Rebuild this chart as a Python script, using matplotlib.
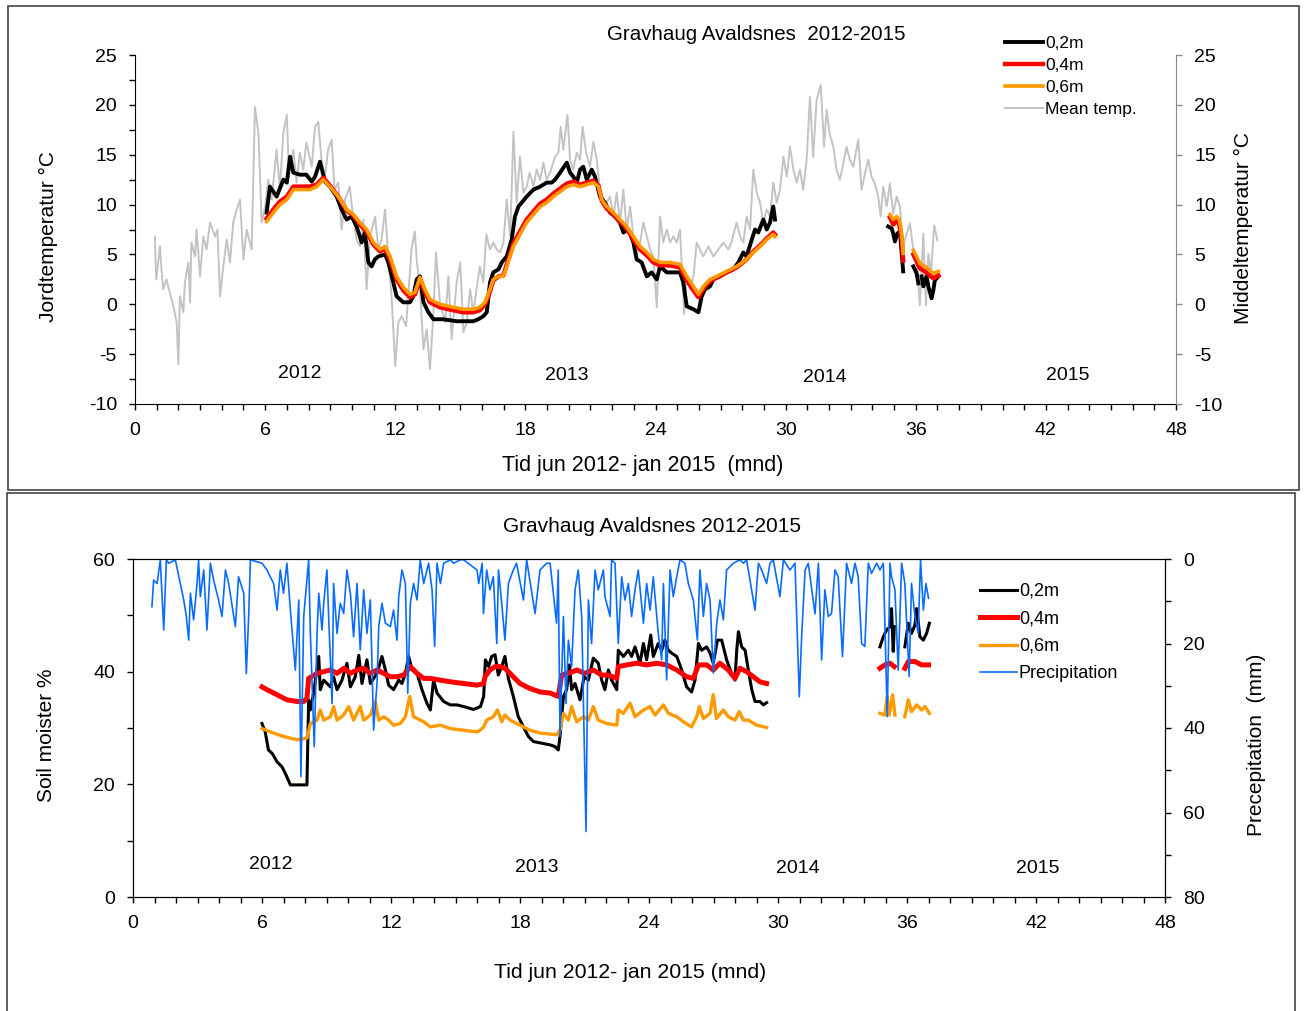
import matplotlib.pyplot as plt
from matplotlib.patches import Rectangle
from matplotlib.ticker import MultipleLocator
import numpy as np

plt.rcParams['font.family'] = ['Liberation Sans', 'DejaVu Sans']
plt.rcParams['axes.unicode_minus'] = False

nan = np.nan

# ---------------- top panel: temperatures (months since start) ----------------
mean_month = [0.92, 0.95, 0.98, 1.15, 1.22, 1.3, 1.45, 1.6, 1.77, 1.92, 2.0, 2.07,
              2.23, 2.3, 2.46, 2.54, 2.6, 2.77, 2.84, 3.0, 3.15, 3.3, 3.46, 3.69,
              3.8, 3.92, 4.07, 4.23, 4.38, 4.53, 4.69, 4.84, 5.0, 5.15, 5.38, 5.53,
              5.69, 5.84, 6.0, 6.15, 6.3, 6.53, 6.68, 6.84, 7.0, 7.1, 7.3, 7.45,
              7.6, 7.76, 7.9, 8.15, 8.3, 8.45, 8.6, 8.76, 8.9, 9.07, 9.2, 9.37,
              9.53, 9.68, 9.9, 10.07, 10.22, 10.37, 10.53, 10.68, 10.83, 11.07, 11.22, 11.37,
              11.53, 11.68, 11.83, 12.0, 12.14, 12.3, 12.5, 12.75, 12.9, 13.0, 13.14, 13.3,
              13.45, 13.6, 13.75, 13.88, 14.06, 14.3, 14.45, 14.6, 14.83, 15.0, 15.14, 15.3,
              15.45, 15.6, 15.9, 16.06, 16.2, 16.37, 16.52, 16.68, 16.83, 16.99, 17.14, 17.3,
              17.45, 17.6, 17.75, 17.91, 18.06, 18.2, 18.37, 18.52, 18.68, 18.83, 18.98, 19.14,
              19.37, 19.52, 19.63, 19.75, 19.94, 20.06, 20.2, 20.37, 20.52, 20.64, 20.8, 20.98,
              21.14, 21.29, 21.44, 21.6, 21.75, 21.9, 22.06, 22.21, 22.36, 22.52, 22.67, 22.83,
              22.98, 23.13, 23.29, 23.44, 23.6, 23.75, 23.9, 24.06, 24.21, 24.36, 24.52, 24.67,
              24.82, 24.98, 25.13, 25.32, 25.44, 25.6, 25.75, 25.9, 26.05, 26.2, 26.44, 26.67,
              26.9, 27.13, 27.36, 27.5, 27.74, 27.9, 28.05, 28.2, 28.36, 28.51, 28.67, 28.82,
              28.97, 29.13, 29.28, 29.43, 29.59, 29.74, 29.9, 30.05, 30.2, 30.36, 30.51, 30.66,
              30.81, 30.97, 31.12, 31.27, 31.43, 31.62, 31.77, 31.89, 32.04, 32.2, 32.35, 32.5,
              32.66, 32.81, 32.96, 33.12, 33.35, 33.5, 33.66, 33.81, 33.96, 34.12, 34.27, 34.38,
              34.5, 34.66, 34.81, 34.96, 35.12, 35.27, 35.42, 35.58, 35.73, 35.89, 36.04, 36.19,
              36.35, 36.47, 36.58, 36.7, 36.85, 37.0]
mean_temp = [6.8, 4.3, 2.5, 5.8, 3.5, 1.5, 2.5, 1.2, -0.2, -1.8, -6.0, 0.8,
             -0.8, 2.2, 4.2, 0.2, 6.2, 4.8, 7.5, 2.8, 6.8, 5.5, 8.2, 6.8,
             7.5, 0.8, 3.8, 6.5, 4.2, 8.2, 9.5, 10.5, 4.5, 7.5, 5.5, 19.8,
             17.2, 8.2, 9.8, 12.5, 10.5, 15.5, 11.5, 17.2, 19.0, 12.8, 15.5, 12.2,
             15.2, 13.5, 16.2, 13.8, 17.8, 18.3, 14.5, 12.8, 15.5, 16.5, 11.5, 12.2,
             7.5, 10.5, 11.8, 8.5, 6.5, 5.8, 8.5, 1.5, 6.8, 8.8, 5.5, 6.5,
             9.5, 4.8, 0.8, -6.2, -1.8, -1.2, -2.2, 5.5, 7.3, 4.2, 1.5, -4.5,
             -2.5, -6.5, -1.2, 5.2, 0.2, -1.8, 2.8, -3.5, 2.2, 4.2, -2.8, -1.8,
             1.5, -0.8, 3.8, 2.2, 7.0, 5.5, 6.2, 5.5, 5.2, 6.2, 10.5, 6.8,
             17.3, 10.2, 14.8, 11.2, 11.8, 13.2, 11.8, 13.5, 12.5, 14.2, 12.5, 13.2,
             14.8, 15.2, 17.8, 15.5, 19.0, 14.5, 13.5, 15.2, 14.5, 17.8, 15.2, 13.8,
             16.3, 14.5, 11.5, 10.5, 10.2, 10.8, 8.8, 11.2, 8.2, 11.5, 7.5, 9.8,
             6.8, 4.8, 6.2, 8.2, 6.8, 5.5, 4.8, -0.3, 8.8, 6.2, 7.5, 6.2,
             6.8, 6.2, 7.5, -1.0, 2.8, 1.5, 2.8, 6.2, 5.5, 4.8, 5.8, 4.8,
             5.5, 6.2, 5.5, 6.2, 8.2, 6.8, 6.2, 8.8, 7.5, 13.5, 11.2, 10.2,
             8.2, 9.5, 8.8, 12.2, 10.2, 11.5, 14.8, 12.8, 15.8, 13.5, 12.2, 13.5,
             11.5, 14.5, 20.8, 14.8, 20.5, 22.0, 15.8, 19.5, 17.0, 15.8, 13.5, 12.5,
             14.1, 15.8, 14.5, 13.8, 16.5, 11.5, 13.1, 14.5, 12.8, 12.1, 10.8, 8.8,
             11.8, 9.8, 12.1, 9.1, 10.8, 9.8, 5.8, 7.1, 8.1, 5.4, 4.4, -0.1,
             7.1, -0.1, 5.1, 3.1, 7.9, 6.4]

soil02_month = [6.07, 6.22, 6.53, 6.84, 7.0, 7.15, 7.3, 7.6, 7.9, 8.15, 8.3, 8.53,
                8.76, 8.99, 9.3, 9.53, 9.76, 9.99, 10.22, 10.45, 10.6, 10.76, 10.91, 11.06,
                11.22, 11.53, 11.68, 11.91, 12.06, 12.37, 12.68, 12.83, 12.99, 13.14, 13.3, 13.53,
                13.76, 14.2, 14.83, 15.6, 15.83, 16.06, 16.22, 16.37, 16.52, 16.76, 16.91, 17.14,
                17.37, 17.52, 17.68, 17.83, 18.06, 18.37, 18.68, 18.98, 19.21, 19.37, 19.6, 19.91,
                20.06, 20.21, 20.37, 20.52, 20.67, 20.83, 21.06, 21.21, 21.44, 21.67, 21.9, 22.13,
                22.36, 22.52, 22.75, 22.98, 23.13, 23.36, 23.6, 23.82, 24.06, 24.21, 24.52, 24.82,
                25.13, 25.28, 25.44, 25.75, 25.98, 26.13, 26.28, 26.51, 26.67, 26.98, 27.28, 27.59,
                27.82, 28.05, 28.2, 28.44, 28.59, 28.74, 28.97, 29.13, 29.28, 29.43, 29.51, 29.6,
                34.73, 34.89, 34.96, 35.04, 35.15, 35.27, 35.35, 35.42, 35.6,
                35.89, 36.04, 36.12, 36.2,
                36.27, 36.35, 36.5, 36.58, 36.73, 36.81, 36.88, 37.04]
soil02_temp = [9.2, 11.8, 10.8, 12.5, 12.2, 14.8, 13.2, 13.0, 13.0, 12.3, 12.8, 14.3,
               12.3, 11.8, 10.8, 9.5, 8.5, 8.8, 7.8, 6.2, 7.2, 4.2, 3.8, 4.5,
               4.8, 5.0, 4.2, 2.2, 0.8, 0.2, 0.2, 0.8, 2.5, 2.8, 0.2, -0.8,
               -1.5, -1.5, -1.7, -1.7, -1.5, -1.2, -0.8, 2.2, 3.2, 3.5, 4.2, 4.8,
               6.5, 8.8, 9.8, 10.2, 10.8, 11.5, 11.8, 12.2, 12.2, 12.5, 13.2, 14.2,
               13.2, 12.8, 12.2, 13.5, 13.8, 12.5, 13.5, 12.8, 10.8, 10.2, 9.2, 8.8,
               8.2, 7.2, 7.5, 6.2, 4.5, 4.2, 2.8, 3.2, 2.5, 3.8, 3.2, 3.2,
               3.2, 2.2, -0.2, -0.5, -0.8, 0.8, 1.5, 1.8, 2.5, 2.8, 3.2, 3.5,
               4.2, 5.2, 4.8, 6.5, 7.5, 7.2, 8.5, 7.5, 8.2, 9.8, 8.5, nan,
               7.8, 7.6, 7.1, 6.3, 7.1, 7.3, 5.1, 3.3, nan,
               3.8, 3.1, 2.1, nan,
               2.8, 1.8, 2.8, 1.8, 0.6, 1.4, 2.4, 2.8]

soil_month = [6.07, 6.38, 6.68, 7.0, 7.3, 7.6, 8.07, 8.38, 8.68, 8.99, 9.37, 9.76,
              10.07, 10.37, 10.68, 10.99, 11.3, 11.53, 11.76, 12.06, 12.37, 12.68, 12.91, 13.14,
              13.37, 13.6, 14.06, 14.68, 15.14, 15.6, 15.9, 16.14, 16.37, 16.52, 16.76, 16.99,
              17.14, 17.45, 17.75, 18.06, 18.37, 18.68, 18.98, 19.29, 19.6, 19.91, 20.21, 20.52,
              20.83, 21.14, 21.37, 21.52, 21.75, 22.06, 22.36, 22.67, 22.98, 23.29, 23.6, 23.9,
              24.21, 24.67, 25.13, 25.44, 25.75, 25.98, 26.21, 26.51, 26.82, 27.28, 27.74, 28.2,
              28.51, 28.82, 29.13, 29.43, 29.51, 29.6,
              34.81, 34.96, 35.12, 35.24, 35.35, 35.42, 35.6,
              35.89, 36.04, 36.19, 36.42, 36.65, 36.81, 37.04]
soil04_temp = [8.6, 9.5, 10.3, 10.8, 11.8, 11.8, 11.8, 12.0, 12.7, 11.9, 10.8, 9.4,
               8.9, 8.0, 7.3, 6.0, 5.3, 5.6, 4.5, 2.5, 1.4, 0.7, 1.0, 2.6,
               1.2, 0.2, -0.3, -0.6, -0.8, -0.8, -0.6, 0.0, 1.3, 2.4, 2.8, 2.9,
               4.0, 6.1, 7.3, 8.5, 9.3, 10.1, 10.5, 11.1, 11.6, 12.1, 12.3, 12.0,
               12.2, 12.4, 11.9, 10.4, 9.6, 9.0, 8.3, 7.6, 6.5, 5.5, 4.9, 4.2,
               3.9, 3.9, 3.7, 2.4, 1.4, 0.7, 1.6, 2.3, 2.7, 3.2, 3.7, 4.5,
               5.3, 5.9, 6.6, 7.2, 7.0, nan,
               8.7, 8.0, 8.4, 8.0, 6.5, 4.4, nan,
               5.0, 4.3, 3.6, 3.3, 2.9, 2.6, 2.9]
soil06_temp = [8.3, 9.2, 10.0, 10.5, 11.5, 11.5, 11.5, 11.8, 12.5, 11.8, 10.8, 9.5,
               9.0, 8.2, 7.5, 6.2, 5.5, 5.8, 4.8, 2.8, 1.7, 1.0, 1.2, 2.7,
               1.5, 0.5, 0.0, -0.3, -0.5, -0.5, -0.3, 0.2, 1.5, 2.5, 2.8, 2.8,
               3.8, 5.8, 7.0, 8.2, 9.0, 9.8, 10.2, 10.8, 11.3, 11.8, 12.0, 11.8,
               12.0, 12.2, 11.8, 10.5, 9.8, 9.2, 8.5, 7.8, 6.8, 5.8, 5.2, 4.5,
               4.2, 4.2, 4.0, 2.8, 1.8, 1.0, 1.8, 2.5, 2.8, 3.3, 3.8, 4.5,
               5.2, 5.8, 6.5, 7.0, 6.8, nan,
               9.0, 8.5, 8.8, 8.5, 7.1, 5.1, nan,
               5.4, 4.8, 4.1, 3.8, 3.4, 3.1, 3.3]

# ---------------- bottom panel: soil moisture (%) and precipitation (mm) ----------------
moist02_month = [6.0, 6.15, 6.3, 6.47, 6.7, 6.93, 7.09, 7.32, 8.09, 8.17, 8.25, 8.4,
                 8.64, 8.71, 8.87, 9.18, 9.33, 9.49, 9.72, 9.95, 10.11, 10.34, 10.5, 10.65,
                 10.88, 11.04, 11.35, 11.58, 11.74, 11.89, 12.12, 12.36, 12.51, 12.67, 12.82, 12.98,
                 13.21, 13.44, 13.67, 13.83, 13.98, 14.14, 14.45, 14.76, 15.07, 15.38, 15.84, 16.16,
                 16.31, 16.39, 16.54, 16.68, 16.84, 16.99, 17.15, 17.3, 17.46, 17.69, 17.92, 18.16,
                 18.39, 18.62, 19.01, 19.4, 19.63, 19.78, 19.86, 20.02, 20.17, 20.3, 20.4, 20.56,
                 20.79, 20.98, 21.18, 21.41, 21.64, 21.8, 21.95, 22.11, 22.26, 22.5, 22.57, 22.81,
                 23.04, 23.19, 23.35, 23.58, 23.74, 23.89, 24.08, 24.2, 24.43, 24.59, 24.74, 24.9,
                 25.05, 25.29, 25.52, 25.75, 25.98, 26.14, 26.3, 26.45, 26.68, 26.84, 26.99, 27.18,
                 27.38, 27.61, 27.84, 28.0, 28.08, 28.16, 28.31, 28.47, 28.62, 28.78, 28.93, 29.16,
                 29.32, 29.47, 29.6,
                 34.74, 34.9, 35.05, 35.21, 35.28, 35.36, 35.41, 35.6,
                 35.9, 36.06, 36.21, 36.37, 36.45, 36.6, 36.76, 36.91, 37.04]
moist02 = [30.8, 29.3, 26.1, 25.5, 24.0, 23.1, 21.9, 19.9, 19.9, 35.0, 33.2, 36.2,
           42.7, 36.8, 38.5, 37.3, 39.1, 36.8, 38.5, 41.5, 37.3, 39.1, 42.9, 37.9,
           42.1, 37.9, 39.7, 42.7, 40.3, 37.6, 36.8, 38.5, 37.9, 39.7, 42.7, 40.3,
           39.7, 36.8, 34.4, 33.2, 38.5, 36.2, 34.7, 34.1, 34.1, 33.8, 33.3, 33.8,
           35.6, 42.1, 40.9, 42.7, 43.0, 39.4, 40.9, 42.7, 38.8, 35.6, 32.0, 30.2,
           28.5, 27.6, 27.3, 27.0, 26.7, 26.1, 28.5, 35.6, 36.8, 41.2, 36.8, 37.9,
           35.0, 39.1, 38.5, 42.4, 41.5, 38.5, 36.8, 40.3, 38.5, 36.8, 43.8, 42.7,
           43.8, 42.7, 44.4, 41.5, 45.0, 42.1, 46.5, 42.7, 45.0, 43.8, 45.6, 43.8,
           43.3, 42.7, 40.3, 37.3, 36.4, 38.5, 45.0, 43.8, 44.4, 43.3, 41.5, 45.6,
           45.6, 42.1, 39.7, 38.5, 43.8, 47.1, 44.4, 43.8, 40.3, 36.8, 34.7, 34.7,
           34.1, 34.5, nan,
           44.4, 46.2, 47.4, 48.0, 51.2, 43.6, 48.0, nan,
           44.4, 48.6, 46.8, 48.3, 51.2, 46.2, 45.6, 46.8, 48.6]

moist04_month = [6.0, 6.23, 6.7, 7.16, 7.63, 7.94, 8.09, 8.17, 8.56, 8.87, 9.18, 9.49,
                 9.8, 10.11, 10.42, 10.73, 11.04, 11.35, 11.66, 11.97, 12.28, 12.59, 12.9, 13.21,
                 13.52, 13.83, 14.29, 14.76, 15.38, 16.0, 16.31, 16.37, 16.6, 16.84, 17.07, 17.3,
                 17.61, 18.0, 18.47, 18.93, 19.4, 19.78, 19.94, 20.25, 20.64, 21.02, 21.41, 21.8,
                 22.11, 22.5, 22.57, 22.96, 23.43, 23.89, 24.36, 24.82, 25.29, 25.75, 26.06, 26.3,
                 26.68, 26.99, 27.3, 27.69, 28.0, 28.23, 28.54, 28.85, 29.16, 29.47, 29.6,
                 34.74, 34.97, 35.21, 35.41, 35.6,
                 35.9, 36.06, 36.37, 36.68, 37.0]
moist04 = [37.3, 36.8, 35.9, 35.0, 34.7, 34.7, 35.3, 38.8, 39.7, 40.0, 40.3, 39.7,
           40.6, 39.7, 40.3, 40.6, 39.7, 40.3, 39.7, 39.1, 39.1, 39.4, 40.9, 39.7,
           38.8, 38.8, 38.5, 38.2, 37.9, 37.6, 37.9, 39.1, 40.3, 40.9, 40.9, 40.6,
           39.4, 37.9, 37.0, 36.4, 36.2, 35.6, 39.4, 39.7, 40.3, 39.7, 40.3, 39.4,
           39.4, 38.8, 40.9, 41.2, 41.5, 41.2, 41.5, 41.2, 40.3, 39.1, 38.8, 41.2,
           41.2, 40.3, 41.5, 40.3, 38.8, 40.6, 40.0, 39.1, 38.2, 37.9, nan,
           40.6, 41.2, 41.5, 40.9, nan,
           40.6, 41.8, 41.8, 41.2, 41.2]

moist06_month = [6.0, 6.39, 7.0, 7.63, 8.09, 8.25, 8.56, 8.71, 8.87, 9.18, 9.33, 9.49,
                 9.8, 10.03, 10.26, 10.57, 10.73, 11.04, 11.27, 11.43, 11.66, 11.89, 12.12, 12.43,
                 12.67, 12.87, 13.05, 13.52, 13.83, 14.29, 14.76, 15.38, 16.0, 16.14, 16.31, 16.45,
                 16.76, 16.95, 17.15, 17.3, 17.54, 18.0, 18.47, 18.93, 19.71, 19.86, 20.02, 20.25,
                 20.4, 20.64, 20.95, 21.18, 21.41, 21.64, 22.03, 22.5, 22.57, 22.81, 23.12, 23.35,
                 23.74, 24.05, 24.28, 24.67, 24.9, 25.29, 25.6, 25.98, 26.22, 26.34, 26.53, 26.84,
                 26.99, 27.14, 27.46, 27.69, 28.0, 28.2, 28.39, 28.62, 29.01, 29.47, 29.6,
                 34.74, 34.97, 35.08, 35.17, 35.33, 35.44, 35.6,
                 35.9, 36.06, 36.21, 36.45, 36.68, 36.84, 37.04]
moist06 = [29.9, 29.3, 28.5, 27.9, 28.2, 30.8, 31.4, 33.2, 31.4, 32.0, 33.8, 31.4,
           32.3, 33.8, 31.4, 33.8, 31.4, 32.3, 34.7, 31.4, 32.0, 31.4, 30.5, 30.8,
           32.0, 35.6, 32.0, 31.1, 30.2, 30.5, 29.9, 29.6, 29.3, 29.6, 30.2, 31.4,
           32.0, 33.2, 31.1, 32.3, 31.4, 30.5, 29.6, 29.1, 28.8, 29.6, 32.6, 31.4,
           33.8, 31.1, 32.0, 31.4, 33.8, 31.4, 30.8, 30.5, 33.2, 32.6, 34.4, 32.0,
           33.2, 33.8, 32.3, 34.1, 32.6, 32.0, 31.1, 30.2, 32.0, 33.8, 31.7, 32.6,
           35.9, 31.7, 33.2, 32.0, 31.4, 32.9, 31.4, 31.4, 30.5, 30.1, nan,
           32.6, 32.3, 35.6, 32.3, 35.9, 32.3, nan,
           32.0, 35.0, 32.9, 34.1, 33.2, 33.8, 32.6]

rain_month = [0.88, 0.96, 1.12, 1.27, 1.43, 1.55, 1.66, 1.97, 2.2, 2.36, 2.48, 2.59,
              2.67, 2.82, 2.98, 3.05, 3.13, 3.29, 3.44, 3.6, 3.75, 3.98, 4.14, 4.3,
              4.45, 4.76, 4.91, 5.15, 5.27, 5.38, 5.46, 6.0, 6.23, 6.54, 6.7, 6.85,
              7.0, 7.16, 7.32, 7.55, 7.71, 7.81, 7.94, 8.02, 8.17, 8.25, 8.43, 8.56,
              8.64, 8.79, 8.87, 9.02, 9.1, 9.26, 9.33, 9.49, 9.64, 9.8, 9.95, 10.11,
              10.26, 10.42, 10.57, 10.73, 10.88, 11.04, 11.19, 11.35, 11.43, 11.58, 11.74, 11.97,
              12.12, 12.28, 12.36, 12.51, 12.67, 12.78, 12.9, 13.05, 13.21, 13.36, 13.52, 13.75,
              13.91, 14.03, 14.14, 14.3, 14.45, 14.76, 14.91, 15.22, 15.38, 16.0, 16.08, 16.24,
              16.3, 16.45, 16.6, 16.76, 16.92, 17.0, 17.15, 17.3, 17.46, 17.69, 17.84, 18.16,
              18.31, 18.7, 18.93, 19.24, 19.4, 19.7, 19.78, 19.86, 20.02, 20.14, 20.25, 20.4,
              20.56, 20.71, 20.87, 21.07, 21.18, 21.33, 21.49, 21.64, 21.88, 21.95, 22.19, 22.26,
              22.42, 22.57, 22.73, 22.88, 23.04, 23.19, 23.35, 23.5, 23.74, 23.89, 24.05, 24.2,
              24.43, 24.59, 24.67, 24.82, 24.98, 25.13, 25.29, 25.44, 25.67, 25.83, 26.06, 26.25,
              26.37, 26.53, 26.68, 26.84, 26.99, 27.15, 27.3, 27.46, 27.61, 27.92, 28.23, 28.39,
              28.54, 28.93, 29.09, 29.24, 29.47, 29.63, 29.78, 30.09, 30.25, 30.56, 30.79, 30.99,
              31.1, 31.26, 31.41, 31.72, 31.88, 32.03, 32.18, 32.34, 32.49, 32.65, 32.8, 33.0,
              33.19, 33.42, 33.58, 33.73, 33.89, 34.04, 34.2, 34.35, 34.59, 34.74, 34.9, 35.08,
              35.21, 35.28, 35.44, 35.59, 35.75, 35.9, 36.1, 36.21, 36.37, 36.52, 36.63, 36.76,
              36.88, 37.0]
rain_mm = [11.3, 5.0, 5.8, 0.2, 16.8, 0.2, 1.0, 0.2, 5.8, 9.7, 13.6, 19.2,
           8.1, 14.4, 5.8, 0.2, 8.9, 2.6, 16.8, 1.0, 5.0, 9.7, 13.6, 2.6,
           5.8, 16.0, 4.2, 8.1, 27.1, 13.6, 0.2, 1.0, 2.6, 5.8, 12.1, 2.6,
           8.1, 1.0, 12.1, 26.3, 9.7, 51.5, 13.6, 8.9, 0.2, 17.6, 44.4, 17.6,
           8.1, 16.8, 10.5, 2.6, 13.6, 34.2, 5.8, 17.6, 10.5, 12.9, 2.6, 8.1,
           18.4, 5.8, 21.5, 7.3, 17.6, 9.7, 40.5, 29.4, 16.0, 10.5, 15.2, 16.0,
           12.1, 19.2, 8.9, 2.6, 5.8, 31.8, 10.5, 5.8, 9.7, 0.2, 5.8, 1.0,
           7.3, 20.7, 1.0, 5.8, 1.0, 0.2, 1.0, 0.2, 0.2, 2.6, 5.8, 1.0,
           12.9, 2.6, 7.3, 4.2, 20.0, 2.6, 10.5, 19.2, 5.8, 2.6, 1.0, 9.7,
           0.2, 12.9, 2.6, 1.0, 1.0, 15.2, 2.6, 42.0, 13.6, 34.2, 19.2, 25.5,
           7.3, 2.6, 13.6, 64.5, 9.7, 20.0, 2.6, 7.3, 2.6, 8.9, 13.6, 0.2,
           1.0, 20.0, 4.2, 9.7, 5.8, 13.6, 7.3, 2.6, 15.2, 5.8, 12.1, 4.2,
           17.6, 23.9, 5.8, 28.6, 2.6, 8.9, 4.2, 0.2, 1.0, 5.8, 9.7, 19.2,
           2.6, 13.6, 5.8, 9.7, 27.0, 15.2, 9.7, 14.4, 2.6, 1.0, 0.2, 1.0,
           0.2, 12.1, 1.0, 2.6, 5.8, 1.0, 0.2, 8.9, 0.2, 2.6, 1.0, 32.6,
           18.4, 2.6, 1.0, 13.0, 1.0, 23.9, 7.3, 13.6, 12.9, 2.6, 4.2, 23.1,
           1.0, 5.8, 1.0, 4.2, 20.0, 20.7, 1.0, 3.4, 1.0, 2.6, 1.0, 37.3,
           1.0, 4.2, 7.3, 26.3, 1.0, 5.8, 27.8, 5.8, 13.6, 17.6, 0.2, 12.1,
           5.8, 9.3]

year_labels = ['2012', '2013', '2014', '2015']
top_year_pos = [(7.6, -6.9), (19.9, -7.1), (31.8, -7.3), (43.0, -7.1)]
bot_year_pos = [(6.4, 5.8), (18.8, 5.3), (30.9, 5.0), (42.1, 5.1)]

W, H = 1304, 1011
fig = plt.figure(figsize=(W / 100, H / 100), dpi=100)


def fx(x):
    return x / W


def fy(y):
    return 1 - y / H


# frames around the two panels
fig.patches.append(Rectangle((fx(8), fy(490)), fx(1299) - fx(8), fy(6) - fy(490),
                             transform=fig.transFigure, fill=False, ec='#444444', lw=1.2))
fig.patches.append(Rectangle((fx(7), fy(1030)), fx(1295) - fx(7), fy(493) - fy(1030),
                             transform=fig.transFigure, fill=False, ec='#444444', lw=1.2))

tick_kw = dict(direction='out', length=4, width=1, labelsize=14, pad=9)


def style_x(ax):
    ax.set_xlim(0, 48)
    ax.set_xticks(range(0, 49, 6))
    ax.xaxis.set_minor_locator(MultipleLocator(1))
    ax.tick_params(axis='x', which='both', **tick_kw)


# ---------------- top panel ----------------
ax1 = fig.add_axes([fx(135), fy(404), fx(1176) - fx(135), fy(55) - fy(404)])
ln_mean, = ax1.plot(mean_month, mean_temp, color='#C3C3C3', lw=1.4)
ln02, = ax1.plot(soil02_month, soil02_temp, color='black', lw=2.8)
ln04, = ax1.plot(soil_month, soil04_temp, color='#FF0000', lw=3.2)
ln06, = ax1.plot(soil_month, soil06_temp, color='#FF9900', lw=2.6)
ax1.set_ylim(-10, 25)
ax1.set_yticks(range(-10, 26, 5))
ax1.yaxis.set_minor_locator(MultipleLocator(2.5))
style_x(ax1)
ax1.tick_params(axis='y', which='both', **tick_kw)
ax1.spines['top'].set_visible(False)
ax1.spines['right'].set_visible(False)

ax1r = ax1.twinx()
ax1r.set_ylim(-10, 25)
ax1r.set_yticks(range(-10, 26, 5))
ax1r.tick_params(axis='y', direction='out', length=4, width=1, labelsize=14, pad=9,
                 color='#888888')
ax1r.spines['right'].set_color('#888888')
for s in ['top', 'left', 'bottom']:
    ax1r.spines[s].set_visible(False)

for lab, (mx, my) in zip(year_labels, top_year_pos):
    ax1.text(mx, my, lab, ha='center', va='center', fontsize=14)

fig.legend([ln02, ln04, ln06, ln_mean], ['0,2m', '0,4m', '0,6m', 'Mean temp.'],
           loc='upper left', bbox_to_anchor=(fx(1005), fy(36)), bbox_transform=fig.transFigure,
           frameon=False, fontsize=12.5, handlelength=2.2, handletextpad=0.1,
           labelspacing=0.4, borderpad=0, borderaxespad=0)

fig.text(fx(756), fy(35), 'Gravhaug Avaldsnes  2012-2015', ha='center', va='center', fontsize=14.8)
fig.text(fx(643), fy(465), 'Tid jun 2012- jan 2015  (mnd)', ha='center', va='center', fontsize=15.5)
fig.text(fx(48), fy(237), 'Jordtemperatur °C', ha='center', va='center', rotation=90, fontsize=15)
fig.text(fx(1243), fy(228), 'Middeltemperatur °C', ha='center', va='center', rotation=90, fontsize=15)

# ---------------- bottom panel ----------------
ax2 = fig.add_axes([fx(133), fy(897), fx(1165) - fx(133), fy(559) - fy(897)])
l02, = ax2.plot(moist02_month, moist02, color='black', lw=2.2)
l04, = ax2.plot(moist04_month, moist04, color='#FF0000', lw=3.6)
l06, = ax2.plot(moist06_month, moist06, color='#FF9900', lw=2.4)
ax2.set_ylim(0, 60)
ax2.set_yticks(range(0, 61, 20))
ax2.yaxis.set_minor_locator(MultipleLocator(10))
style_x(ax2)
ax2.tick_params(axis='y', which='both', **tick_kw)

ax2r = ax2.twinx()
lrain, = ax2r.plot(rain_month, rain_mm, color='#0A6CFF', lw=1.2, clip_on=False)
ax2r.set_ylim(80, 0)
ax2r.set_yticks(range(0, 81, 20))
ax2r.yaxis.set_minor_locator(MultipleLocator(10))
ax2r.tick_params(axis='y', which='both', **tick_kw)

for lab, (mx, my) in zip(year_labels, bot_year_pos):
    ax2.text(mx, my, lab, ha='center', va='center', fontsize=14)

fig.legend([l02, l04, l06, lrain], ['0,2m', '0,4m', '0,6m', 'Precipitation'],
           loc='upper left', bbox_to_anchor=(fx(980), fy(583)), bbox_transform=fig.transFigure,
           frameon=False, fontsize=13, handlelength=2.05, handletextpad=0.1,
           labelspacing=0.58, borderpad=0, borderaxespad=0)

fig.text(fx(652), fy(527), 'Gravhaug Avaldsnes 2012-2015', ha='center', va='center', fontsize=15)
fig.text(fx(630), fy(973), 'Tid jun 2012- jan 2015 (mnd)', ha='center', va='center', fontsize=15.3)
fig.text(fx(46), fy(735), 'Soil moister %', ha='center', va='center', rotation=90, fontsize=15)
fig.text(fx(1257), fy(745), 'Precepitation  (mm)', ha='center', va='center', rotation=90, fontsize=15)

fig.savefig('out.png', dpi=100)
